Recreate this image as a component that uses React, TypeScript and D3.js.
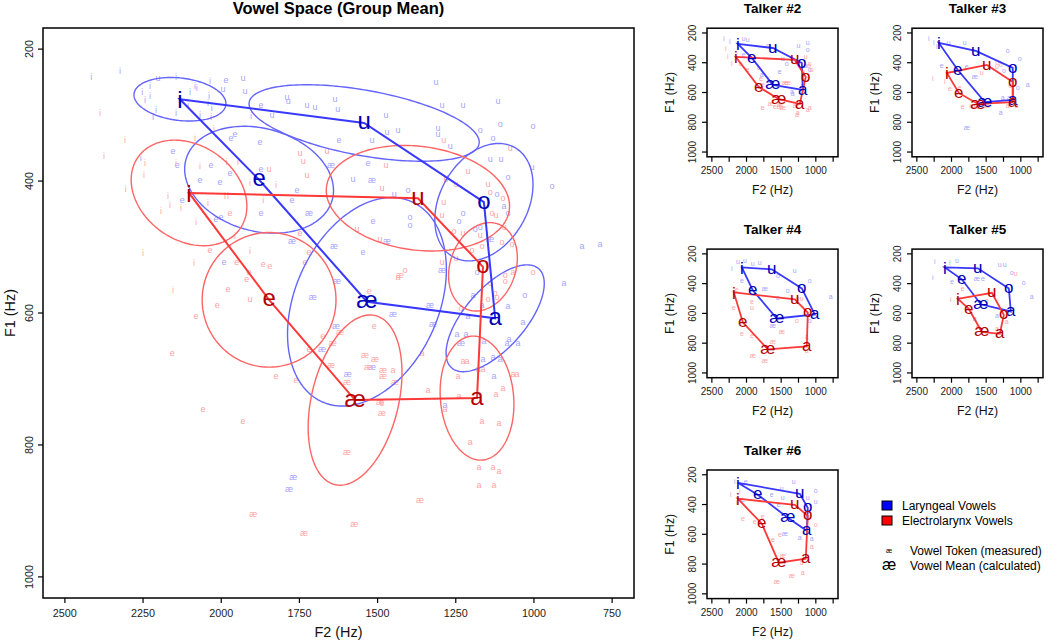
import React from 'react';
import * as d3 from 'd3';

type Tok = [string, number, number];
type Ell = [string, number, number, number];

const FONT = "'Liberation Sans', Arial, Helvetica, sans-serif";

// axis limits (R-style 4% extension of 2500..750 and 200..1000)
const F2_LIM: [number, number] = [2500, 750];
const F1_LIM: [number, number] = [200, 1000];
const xTicks = [2500, 2250, 2000, 1750, 1500, 1250, 1000, 750];
const yTicks = [200, 400, 600, 800, 1000];
const smallXLabels = [2500, 2000, 1500, 1000];
const vowelOrder = ['i', 'u', 'o', 'a', 'æ', 'e'];

// ---------------- group (main panel) ----------------
const groupLarMeans: Tok[] = [
  ['i', 2132, 276], ['e', 1879, 398], ['æ', 1534, 583], ['a', 1124, 608], ['o', 1160, 432], ['u', 1543, 312],
];
const groupElMeans: Tok[] = [
  ['i', 2103, 418], ['e', 1847, 580], ['æ', 1572, 732], ['a', 1182, 729], ['o', 1163, 530], ['u', 1371, 426],
];
// [vowel, half-width F2 (Hz), half-height F1 (Hz), correlation]
const groupLarEllipses: Ell[] = [
  ['i', 147, 33, -0.2], ['e', 238, 81, -0.2], ['æ', 254, 158, 0.31], ['a', 157, 81, 0.65], ['o', 157, 89, 0.3], ['u', 368, 58, -0.5],
];
const groupElEllipses: Ell[] = [
  ['i', 185, 80, -0.25], ['e', 214, 102, 0], ['æ', 150, 129, 0.32], ['a', 118, 94, -0.1], ['o', 110, 67, 0.2], ['u', 293, 80, -0.15],
];

const groupLarTokens: Tok[] = [
  ['i', 2416, 242], ['i', 2324, 233], ['i', 2145, 242], ['i', 2253, 264], ['i', 2244, 277], ['i', 2228, 271], ['i', 2228, 256],
  ['i', 2100, 264], ['i', 2084, 256], ['i', 2078, 259], ['i', 2036, 248], ['i', 2039, 270], ['i', 2042, 282], ['i', 2030, 289],
  ['i', 2106, 285], ['i', 2209, 292], ['i', 2145, 297], ['i', 2218, 303], ['i', 2068, 300], ['i', 2033, 303], ['i', 1905, 301], ['i', 2257, 365],
  ['e', 1985, 247], ['e', 1873, 286], ['e', 2154, 355], ['e', 2141, 376], ['e', 2068, 400], ['e', 2033, 377], ['e', 2004, 402],
  ['e', 1972, 389], ['e', 1969, 335], ['e', 1956, 329], ['e', 2125, 430], ['e', 2017, 458], ['e', 2001, 455], ['e', 1876, 342],
  ['e', 1873, 383], ['e', 1873, 449], ['e', 1623, 338], ['e', 1531, 373], ['e', 1758, 414], ['e', 1774, 430], ['e', 1515, 462],
  ['e', 1991, 523], ['e', 1547, 508],
  ['æ', 1649, 377], ['æ', 1518, 400], ['æ', 1719, 450], ['æ', 1774, 492], ['æ', 1639, 499], ['æ', 1470, 492], ['æ', 1630, 552],
  ['æ', 1707, 577], ['æ', 1451, 603], ['æ', 1633, 620], ['æ', 1678, 655], ['æ', 1518, 682], ['æ', 1595, 694], ['æ', 1770, 850],
  ['æ', 1783, 867], ['æ', 1140, 489], ['æ', 1294, 535], ['æ', 1332, 588], ['æ', 1323, 618], ['æ', 1233, 646],
  ['a', 1096, 438], ['a', 1195, 573], ['a', 1083, 591], ['a', 1166, 589], ['a', 1211, 606], ['a', 1035, 614], ['a', 904, 556],
  ['a', 846, 500], ['a', 789, 497], ['a', 1246, 633], ['a', 1217, 633], ['a', 1160, 643], ['a', 1086, 646], ['a', 1080, 641],
  ['a', 1051, 646], ['a', 1163, 670], ['a', 1131, 668], ['a', 1108, 670], ['a', 1128, 696], ['a', 1284, 741],
  ['o', 1172, 323], ['o', 1396, 456], ['o', 1396, 467], ['o', 1403, 415], ['o', 1227, 449], ['o', 1240, 461], ['o', 1083, 394],
  ['o', 942, 409], ['o', 1118, 420], ['o', 1083, 449], ['o', 1172, 471], ['o', 1188, 474], ['o', 1182, 539], ['o', 1029, 573],
  ['o', 1108, 314], ['o', 1003, 317], ['o', 1131, 335],
  ['u', 2202, 245], ['u', 1930, 245], ['u', 1994, 262], ['u', 1924, 265], ['u', 1313, 251], ['u', 1790, 273], ['u', 1786, 280],
  ['u', 1726, 285], ['u', 1700, 288], ['u', 1636, 276], ['u', 1627, 292], ['u', 1838, 300], ['u', 1473, 301], ['u', 1294, 285],
  ['u', 1227, 285], ['u', 1470, 326], ['u', 1435, 324], ['u', 1307, 320], ['u', 1307, 330], ['u', 1518, 338], ['u', 1268, 347],
  ['u', 1579, 397], ['u', 1447, 420], ['u', 1115, 279], ['u', 1140, 367], ['u', 1105, 367], ['u', 1006, 380],
];

const groupElTokens: Tok[] = [
  ['i', 2388, 297], ['i', 2308, 338], ['i', 2375, 362], ['i', 2244, 373], ['i', 2247, 391], ['i', 2305, 411], ['i', 2145, 373],
  ['i', 2068, 377], ['i', 2084, 335], ['i', 2023, 320], ['i', 1982, 370], ['i', 1946, 370], ['i', 2170, 423], ['i', 2164, 436],
  ['i', 2193, 445], ['i', 2129, 441], ['i', 2042, 433], ['i', 1988, 423], ['i', 1978, 423], ['i', 2081, 461], ['i', 1908, 402],
  ['i', 1825, 406], ['i', 1866, 429], ['i', 1956, 483], ['i', 1908, 505], ['i', 2087, 524], ['i', 2154, 565], ['i', 2250, 509],
  ['e', 1972, 449], ['e', 2036, 505], ['e', 1950, 524], ['e', 1866, 527], ['e', 1844, 530], ['e', 1911, 538], ['e', 1918, 550],
  ['e', 1978, 565], ['e', 2013, 588], ['e', 2081, 606], ['e', 1748, 479], ['e', 1719, 509], ['e', 1732, 524], ['e', 1527, 568],
  ['e', 1511, 621], ['e', 1675, 636], ['e', 1719, 656], ['e', 2157, 662], ['e', 1825, 697], ['e', 1761, 703], ['e', 2058, 747],
  ['e', 1930, 765], ['e', 1486, 738],
  ['æ', 1598, 812], ['æ', 1898, 906], ['æ', 1575, 920], ['æ', 1735, 934], ['æ', 1620, 630], ['æ', 1643, 646], ['æ', 1649, 680],
  ['æ', 1540, 665], ['æ', 1508, 671], ['æ', 1531, 682], ['æ', 1483, 688], ['æ', 1483, 697], ['æ', 1598, 705], ['æ', 1444, 706],
  ['æ', 1492, 736], ['æ', 1486, 752], ['æ', 1428, 544], ['æ', 1364, 884],
  ['a', 1435, 546], ['a', 1451, 688], ['a', 1358, 661], ['a', 1227, 673], ['a', 1214, 673], ['a', 1179, 686], ['a', 1163, 686],
  ['a', 1243, 697], ['a', 1067, 694], ['a', 1054, 693], ['a', 1339, 717], ['a', 1240, 727], ['a', 1121, 723], ['a', 1099, 715],
  ['a', 1284, 747], ['a', 1067, 539], ['a', 1166, 765], ['a', 1112, 767], ['a', 1204, 797], ['a', 1176, 834], ['a', 1131, 835],
  ['a', 1112, 840], ['a', 1176, 861], ['a', 1128, 862],
  ['o', 1140, 417], ['o', 1099, 427], ['o', 1281, 398], ['o', 1134, 449], ['o', 1256, 476], ['o', 1102, 494], ['o', 1070, 497],
  ['o', 1198, 506], ['o', 1166, 500], ['o', 1412, 535], ['o', 1140, 555], ['o', 1092, 544], ['o', 1092, 553], ['o', 1003, 539],
  ['o', 1124, 570], ['o', 1118, 577], ['o', 1147, 580], ['o', 1233, 594],
  ['u', 1748, 359], ['u', 1738, 370], ['u', 1662, 355], ['u', 1726, 391], ['u', 1847, 383], ['u', 1473, 376], ['u', 1486, 411],
  ['u', 1288, 338], ['u', 1281, 395], ['u', 1211, 386], ['u', 1249, 406], ['u', 1288, 432], ['u', 1294, 453], ['u', 1566, 474],
  ['u', 1147, 405], ['u', 1076, 351], ['u', 1121, 452], ['u', 1096, 471], ['u', 1172, 482], ['u', 1227, 479], ['u', 1249, 518],
  ['u', 1294, 524], ['u', 1908, 580], ['u', 1492, 488],
];

// ---------------- individual talkers ----------------
const t2LarMeans: Tok[] = [['i', 2125, 274], ['e', 1923, 368], ['æ', 1620, 549], ['a', 1188, 583], ['o', 1202, 402], ['u', 1620, 301]];
const t2ElMeans: Tok[] = [['i', 2154, 361], ['e', 1822, 563], ['æ', 1534, 644], ['a', 1231, 677], ['o', 1145, 496], ['u', 1303, 381]];
const t3LarMeans: Tok[] = [['i', 2183, 267], ['e', 1909, 449], ['æ', 1519, 664], ['a', 1116, 650], ['o', 1116, 435], ['u', 1649, 321]];
const t3ElMeans: Tok[] = [['i', 2067, 469], ['e', 1894, 603], ['æ', 1620, 677], ['a', 1116, 664], ['o', 1116, 529], ['u', 1490, 415]];
const t4LarMeans: Tok[] = [['i', 2067, 291], ['e', 1909, 445], ['æ', 1563, 634], ['a', 1015, 607], ['o', 1202, 432], ['u', 1635, 304]];
const t4ElMeans: Tok[] = [['i', 2183, 459], ['e', 2053, 660], ['æ', 1692, 842], ['a', 1130, 822], ['o', 1116, 594], ['u', 1303, 506]];
const t5LarMeans: Tok[] = [['i', 2096, 291], ['e', 1851, 371], ['æ', 1577, 539], ['a', 1144, 587], ['o', 1173, 432], ['u', 1620, 297]];
const t5ElMeans: Tok[] = [['i', 1909, 502], ['e', 1750, 570], ['æ', 1563, 724], ['a', 1303, 737], ['o', 1245, 610], ['u', 1418, 462]];
const t6LarMeans: Tok[] = [['i', 2125, 254], ['e', 1837, 334], ['æ', 1404, 489], ['a', 1130, 576], ['o', 1116, 422], ['u', 1231, 328]];
const t6ElMeans: Tok[] = [['i', 2125, 361], ['e', 1779, 529], ['æ', 1534, 791], ['a', 1145, 764], ['o', 1116, 476], ['u', 1303, 402]];

const t2LarTokens: Tok[] = [
  ['i', 2327, 237], ['i', 2240, 255], ['u', 2039, 240], ['u', 1981, 247], ['o', 1692, 287], ['u', 1116, 267], ['o', 1116, 314],
  ['o', 1419, 408], ['o', 1087, 449], ['e', 1520, 462], ['e', 2039, 348], ['a', 1779, 482], ['a', 1346, 596], ['æ', 1650, 540],
  ['a', 1200, 560], ['o', 1150, 420], ['u', 1250, 290], ['u', 1476, 375], ['a', 1332, 610],
];
const t2ElTokens: Tok[] = [
  ['i', 2298, 301], ['i', 2269, 361], ['i', 2212, 402], ['e', 2082, 408], ['e', 1822, 435], ['e', 1793, 509], ['e', 1981, 449],
  ['e', 1765, 549], ['e', 1765, 704], ['e', 1591, 697], ['æ', 1649, 677], ['æ', 1447, 536], ['æ', 1519, 684], ['æ', 1289, 690],
  ['a', 1260, 738], ['a', 1087, 704], ['o', 1180, 460], ['u', 1250, 400], ['o', 1100, 420], ['u', 1145, 361], ['o', 1087, 408],
  ['o', 1058, 449], ['æ', 1404, 536], ['æ', 1519, 697], ['æ', 1476, 704], ['a', 1116, 717], ['a', 1274, 751],
];
const t3LarTokens: Tok[] = [
  ['i', 2327, 234], ['i', 2255, 267], ['i', 2212, 294], ['u', 2039, 267], ['u', 1808, 267], ['o', 1188, 321], ['o', 1015, 375],
  ['e', 2140, 422], ['e', 1779, 428], ['æ', 1664, 496], ['o', 1245, 455], ['a', 899, 549], ['o', 1044, 570], ['a', 1289, 738],
  ['æ', 1779, 838], ['a', 1260, 637], ['a', 1173, 637],
];
const t3ElTokens: Tok[] = [
  ['u', 1563, 469], ['o', 1289, 415], ['i', 2269, 509], ['i', 2096, 529], ['e', 2024, 576], ['e', 1837, 697], ['a', 1058, 690],
  ['u', 1340, 400], ['æ', 1700, 690], ['o', 1150, 560], ['e', 1880, 570], ['æ', 1635, 697], ['æ', 1491, 690], ['a', 1188, 690],
  ['u', 1346, 428],
];
const t4LarTokens: Tok[] = [
  ['i', 2212, 297], ['u', 2125, 257], ['u', 2024, 250], ['u', 1909, 271], ['u', 1808, 264], ['u', 1303, 318], ['o', 1548, 351],
  ['o', 1087, 385], ['e', 2067, 385], ['æ', 1736, 439], ['o', 1404, 452], ['e', 1548, 499], ['a', 784, 492], ['æ', 1620, 687],
  ['o', 1087, 654],
];
const t4ElTokens: Tok[] = [
  ['e', 2140, 445], ['u', 1260, 506], ['u', 1202, 506], ['e', 2183, 566], ['u', 1923, 566], ['e', 1923, 526], ['o', 1274, 654],
  ['e', 2067, 741], ['e', 1923, 754], ['æ', 1491, 727], ['æ', 1620, 795], ['æ', 1909, 889], ['æ', 1736, 922], ['a', 1130, 761],
  ['a', 1130, 855],
];
const t5LarTokens: Tok[] = [
  ['i', 2240, 250], ['i', 2269, 358], ['i', 2024, 257], ['u', 1923, 250], ['u', 1303, 277], ['u', 1231, 277], ['o', 1130, 331],
  ['o', 957, 398], ['a', 842, 492], ['e', 1995, 391], ['æ', 1635, 371], ['e', 1548, 371], ['a', 1346, 620], ['a', 1664, 640],
  ['a', 1116, 573],
];
const t5ElTokens: Tok[] = [
  ['u', 1073, 338], ['i', 2010, 506], ['e', 1880, 506], ['e', 1837, 439], ['o', 1491, 519], ['e', 1620, 694], ['a', 1346, 707],
  ['a', 1202, 660],
];
const t6LarTokens: Tok[] = [
  ['i', 2168, 247], ['e', 2010, 247], ['e', 2053, 368], ['u', 1318, 247], ['u', 1491, 294], ['e', 1635, 334], ['u', 1476, 355],
  ['o', 1000, 308], ['u', 1000, 381], ['u', 1116, 355], ['e', 1534, 402], ['æ', 1447, 596], ['a', 1231, 623], ['a', 1058, 630],
];
const t6ElTokens: Tok[] = [
  ['i', 2096, 314], ['i', 2226, 334], ['i', 2140, 388], ['o', 1000, 536], ['e', 2053, 496], ['e', 1880, 516], ['e', 1765, 482],
  ['e', 1620, 637], ['e', 1519, 603], ['a', 1058, 684], ['æ', 1476, 744], ['a', 1202, 791], ['æ', 1346, 879], ['a', 1188, 859],
  ['æ', 1563, 919],
];

const COL = {
  larTok: '#a4a4ff', elTok: '#ffa4a4',
  larEll: '#6464ff', elEll: '#ff6464',
  larLine: '#3838ff', elLine: '#ff3838',
  larMean: '#0000b4', elMean: '#b40000',
};

const extend = (lim: [number, number]): [number, number] => {
  const d = (lim[1] - lim[0]) * 0.04;
  return [lim[0] - d, lim[1] + d];
};

const dyFor = (v: string) => (v === 'i' ? '0.36em' : '0.27em');

interface PanelProps {
  id: string; left: number; top: number; width: number; height: number;
  title: string; titleSize: number;
  larMeans: Tok[]; elMeans: Tok[]; larTokens: Tok[]; elTokens: Tok[];
  larEll?: Ell[]; elEll?: Ell[];
  meanSize: number; tokenSize: number; lineW: number;
  tickSize: number; labelSize: number; xLabels: number[];
  yTickLabelOff: number; yLabelOff: number; xTickLabelOff: number; xLabelOff: number;
}

function Panel(p: PanelProps) {
  const x = d3.scaleLinear().domain(extend(F2_LIM)).range([p.left, p.left + p.width]);
  const y = d3.scaleLinear().domain(extend(F1_LIM)).range([p.top, p.top + p.height]);
  const bottom = p.top + p.height;
  const line = d3.line<[number, number]>().curve(d3.curveLinearClosed);

  const ellPath = (means: Tok[], e: Ell) => {
    const m = means.find((d) => d[0] === e[0])!;
    const pts: [number, number][] = d3.range(0, 2 * Math.PI, Math.PI / 90).map((t) => [
      x(m[1] + e[1] * Math.cos(t)),
      y(m[2] + e[2] * (e[3] * Math.cos(t) + Math.sqrt(1 - e[3] * e[3]) * Math.sin(t))),
    ]);
    return line(pts) || '';
  };
  const polyPath = (means: Tok[]) => {
    const pts: [number, number][] = vowelOrder.map((v) => {
      const m = means.find((d) => d[0] === v)!;
      return [x(m[1]), y(m[2])];
    });
    return line(pts) || '';
  };
  const clipId = `clip-${p.id}`;
  const tokens = (arr: Tok[], color: string, key: string) =>
    arr.map((t, i) => (
      <text key={`${key}${i}`} x={x(t[1])} y={y(t[2])} dy={dyFor(t[0])} fontSize={p.tokenSize}
        fill={color} textAnchor="middle">{t[0]}</text>
    ));
  const means = (arr: Tok[], color: string, key: string) =>
    arr.map((t, i) => (
      <text key={`${key}${i}`} x={x(t[1])} y={y(t[2])} dy={dyFor(t[0])} fontSize={p.meanSize}
        fill={color} textAnchor="middle">{t[0]}</text>
    ));

  return (
    <g fontFamily={FONT}>
      <defs>
        <clipPath id={clipId}>
          <rect x={p.left} y={p.top} width={p.width} height={p.height} />
        </clipPath>
      </defs>
      <g clipPath={`url(#${clipId})`}>
        {tokens(p.larTokens, COL.larTok, 'lt')}
        {tokens(p.elTokens, COL.elTok, 'et')}
        {(p.larEll || []).map((e, i) => (
          <path key={`le${i}`} d={ellPath(p.larMeans, e)} fill="none" stroke={COL.larEll} strokeWidth={1.4} />
        ))}
        {(p.elEll || []).map((e, i) => (
          <path key={`ee${i}`} d={ellPath(p.elMeans, e)} fill="none" stroke={COL.elEll} strokeWidth={1.4} />
        ))}
        <path d={polyPath(p.larMeans)} fill="none" stroke={COL.larLine} strokeWidth={p.lineW} />
        <path d={polyPath(p.elMeans)} fill="none" stroke={COL.elLine} strokeWidth={p.lineW} />
        {means(p.larMeans, COL.larMean, 'lm')}
        {means(p.elMeans, COL.elMean, 'em')}
      </g>
      <rect x={p.left} y={p.top} width={p.width} height={p.height} fill="none" stroke="#000" strokeWidth={1.5} />
      {xTicks.map((t) => (
        <line key={`xt${t}`} x1={x(t)} x2={x(t)} y1={bottom} y2={bottom + 5} stroke="#000" strokeWidth={1.2} />
      ))}
      {p.xLabels.map((t) => (
        <text key={`xl${t}`} x={x(t)} y={bottom + p.xTickLabelOff} dy="0.35em" fontSize={p.tickSize}
          textAnchor="middle" fill="#222">{t}</text>
      ))}
      {yTicks.map((t) => (
        <line key={`yt${t}`} x1={p.left - 5} x2={p.left} y1={y(t)} y2={y(t)} stroke="#000" strokeWidth={1.2} />
      ))}
      {yTicks.map((t) => (
        <text key={`yl${t}`} transform={`translate(${p.left - p.yTickLabelOff},${y(t)}) rotate(-90)`}
          dy="0.35em" fontSize={p.tickSize} textAnchor="middle" fill="#222">{t}</text>
      ))}
      <text x={p.left + p.width / 2} y={bottom + p.xLabelOff} dy="0.35em" fontSize={p.labelSize}
        textAnchor="middle" fill="#111">F2 (Hz)</text>
      <text transform={`translate(${p.left - p.yLabelOff},${p.top + p.height / 2}) rotate(-90)`}
        dy="0.35em" fontSize={p.labelSize} textAnchor="middle" fill="#111">F1 (Hz)</text>
      <text x={p.left + p.width / 2} y={p.top - 20} dy="0.35em" fontSize={p.titleSize} fontWeight="bold"
        textAnchor="middle" fill="#000">{p.title}</text>
    </g>
  );
}

const talkers = [
  { id: 't2', title: 'Talker #2', col: 0, row: 0, lm: t2LarMeans, em: t2ElMeans, lt: t2LarTokens, et: t2ElTokens },
  { id: 't3', title: 'Talker #3', col: 1, row: 0, lm: t3LarMeans, em: t3ElMeans, lt: t3LarTokens, et: t3ElTokens },
  { id: 't4', title: 'Talker #4', col: 0, row: 1, lm: t4LarMeans, em: t4ElMeans, lt: t4LarTokens, et: t4ElTokens },
  { id: 't5', title: 'Talker #5', col: 1, row: 1, lm: t5LarMeans, em: t5ElMeans, lt: t5LarTokens, et: t5ElTokens },
  { id: 't6', title: 'Talker #6', col: 0, row: 2, lm: t6LarMeans, em: t6ElMeans, lt: t6LarTokens, et: t6ElTokens },
];

export default function App() {
  const colLeft = [707, 912];
  const rowTop = [28.2, 249.1, 470];
  return (
    <svg width={1050} height={641} style={{ position: 'absolute', left: 0, top: 0, background: '#fff' }}
      xmlns="http://www.w3.org/2000/svg">
      <rect x={0} y={0} width={1050} height={641} fill="#fff" />
      <Panel id="main" left={43} top={28} width={591} height={570} title="Vowel Space (Group Mean)" titleSize={16.5}
        larMeans={groupLarMeans} elMeans={groupElMeans} larTokens={groupLarTokens} elTokens={groupElTokens}
        larEll={groupLarEllipses} elEll={groupElEllipses}
        meanSize={24} tokenSize={9} lineW={2} tickSize={10.8} labelSize={14.4} xLabels={xTicks}
        yTickLabelOff={14} yLabelOff={33} xTickLabelOff={15} xLabelOff={34} />
      {talkers.map((t) => (
        <Panel key={t.id} id={t.id} left={colLeft[t.col]} top={rowTop[t.row]} width={131} height={128.6}
          title={t.title} titleSize={13.5}
          larMeans={t.lm} elMeans={t.em} larTokens={t.lt} elTokens={t.et}
          meanSize={17} tokenSize={7} lineW={1.8} tickSize={10} labelSize={12.3} xLabels={smallXLabels}
          yTickLabelOff={15} yLabelOff={37} xTickLabelOff={14} xLabelOff={33} />
      ))}
      <g fontFamily={FONT} fontSize={12}>
        <rect x={882} y={501} width={10} height={9} fill="#0000ff" stroke="#000" strokeWidth={1} />
        <text x={902} y={506} dy="0.35em" fill="#000">Laryngeal Vowels</text>
        <rect x={882} y={516} width={10} height={9} fill="#ff0000" stroke="#000" strokeWidth={1} />
        <text x={902} y={521} dy="0.35em" fill="#000">Electrolarynx Vowels</text>
        <text x={889} y={551} dy="0.27em" fontSize={7} textAnchor="middle" fill="#000">æ</text>
        <text x={910} y={551} dy="0.35em" fill="#000">Vowel Token (measured)</text>
        <text x={889} y={566} dy="0.27em" fontSize={16} textAnchor="middle" fill="#000">æ</text>
        <text x={910} y={566} dy="0.35em" fill="#000">Vowel Mean (calculated)</text>
      </g>
    </svg>
  );
}
